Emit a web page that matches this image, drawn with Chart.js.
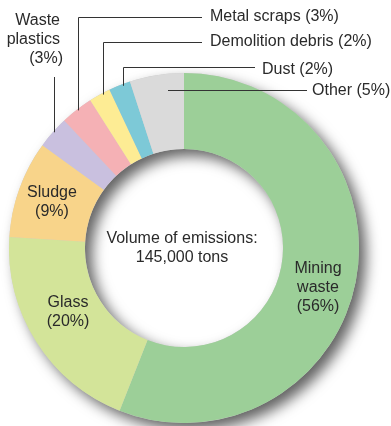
<!DOCTYPE html>
<html>
<head>
<meta charset="utf-8">
<script src="https://cdn.jsdelivr.net/npm/chart.js"></script>
<style>
  html, body { margin: 0; padding: 0; background: #fff; }
  canvas { display: block; }
</style>
</head>
<body>
<canvas id="wasteChart" width="391" height="426"></canvas>
<script>
// Waste emissions by type, share of total volume (%)
const categories = ['Mining waste', 'Glass', 'Sludge', 'Waste plastics', 'Metal scraps', 'Demolition debris', 'Dust', 'Other'];
const shares = [56, 20, 9, 3, 3, 2, 2, 5];
const sliceColors = ['#9ccf98', '#d3e499', '#f8d48a', '#c9c0df', '#f5b1b5', '#fdec94', '#7dc9d7', '#dadada'];
const totalTons = 145000;

const FONT = '16px "Liberation Sans", Arial, sans-serif';
const TEXT = '#2a2a2a';

function pct(i) { return '(' + shares[i] + '%)'; }

// drop shadow under the whole ring (shows outside and inside the hole)
const ringShadow = {
  id: 'ringShadow',
  beforeDatasetsDraw(chart) {
    const arc = chart.getDatasetMeta(0).data[0];
    if (!arc) return;
    const { x, y, innerRadius, outerRadius } = arc;
    const ctx = chart.ctx;
    ctx.save();
    ctx.shadowColor = 'rgba(0,0,0,0.62)';
    ctx.shadowBlur = 14;
    ctx.shadowOffsetX = 7;
    ctx.shadowOffsetY = 7;
    ctx.beginPath();
    ctx.arc(x, y, outerRadius, 0, Math.PI * 2);
    ctx.arc(x, y, innerRadius, 0, Math.PI * 2, true);
    ctx.fillStyle = '#cccccc';
    ctx.fill();
    ctx.restore();
  }
};

// labels, leader lines and the centre caption
const annotations = {
  id: 'annotations',
  afterDatasetsDraw(chart) {
    const arc = chart.getDatasetMeta(0).data[0];
    if (!arc) return;
    const cx = arc.x, cy = arc.y, R = arc.outerRadius;
    const ctx = chart.ctx;
    const edgeY = x => cy - Math.sqrt(R * R - (x - cx) * (x - cx));

    ctx.save();
    ctx.font = FONT;
    ctx.fillStyle = TEXT;
    ctx.textBaseline = 'middle';

    // text inside the ring
    ctx.textAlign = 'center';
    const lines = (arr, x, y0) => arr.forEach((t, k) => ctx.fillText(t, x, y0 + k * 19));
    lines(['Mining', 'waste', pct(0)], cx + 134, cy + 21);
    lines(['Glass', pct(1)], cx - 116, cy + 55);
    lines(['Sludge', pct(2)], cx - 132, cy - 55);

    // centre caption
    lines(['Volume of emissions:', totalTons.toLocaleString('en-US') + ' tons'], cx - 2, cy - 9);

    // leader lines
    ctx.strokeStyle = '#333';
    ctx.lineWidth = 1;
    const seg = pts => {
      ctx.beginPath();
      pts.forEach(([px, py], k) => k ? ctx.lineTo(px, py) : ctx.moveTo(px, py));
      ctx.stroke();
    };
    seg([[54.5, 77], [54.5, edgeY(54.5) + 2]]);
    seg([[78.5, edgeY(78.5) + 2], [78.5, 17.5], [202, 17.5]]);
    seg([[103.5, edgeY(103.5) + 2], [103.5, 42.5], [202, 42.5]]);
    seg([[123.5, edgeY(123.5) + 2], [123.5, 67.5], [255, 67.5]]);
    seg([[168, 90.5], [307, 90.5]]);

    // outer labels
    ctx.textAlign = 'right';
    ctx.fillText('Waste', 60, 21);
    ctx.fillText('plastics', 60, 40);
    ctx.fillText(pct(3), 63, 59);
    ctx.textAlign = 'left';
    ctx.fillText(categories[4] + ' ' + pct(4), 210, 17);
    ctx.fillText(categories[5] + ' ' + pct(5), 210, 42);
    ctx.fillText(categories[6] + ' ' + pct(6), 262, 70);
    ctx.fillText(categories[7] + ' ' + pct(7), 312, 91);
    ctx.restore();
  }
};

new Chart(document.getElementById('wasteChart'), {
  type: 'doughnut',
  data: {
    labels: categories,
    datasets: [{
      data: shares,
      backgroundColor: sliceColors,
      borderWidth: 0
    }]
  },
  options: {
    responsive: false,
    animation: false,
    cutout: '56.6%',
    layout: { padding: { left: 9, right: 32, top: 73, bottom: 3 } },
    plugins: {
      legend: { display: false },
      tooltip: { enabled: false }
    }
  },
  plugins: [ringShadow, annotations]
});
</script>
</body>
</html>
